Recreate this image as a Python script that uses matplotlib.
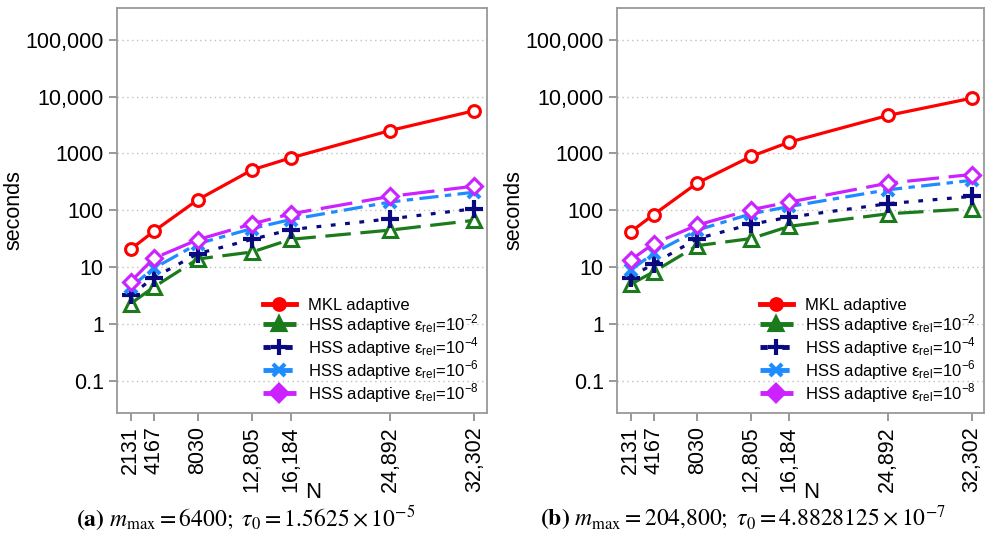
import numpy as np
import matplotlib
matplotlib.use("Agg")
import matplotlib.pyplot as plt
from matplotlib.lines import Line2D
from matplotlib.ticker import FixedLocator, FixedFormatter, NullLocator

plt.rcParams['font.family'] = ['Liberation Sans', 'DejaVu Sans']
plt.rcParams['mathtext.fontset'] = 'stix'

# problem sizes
N = [2131, 4167, 8030, 12805, 16184, 24892, 32302]
N_labels = ['2131', '4167', '8030', '12,805', '16,184', '24,892', '32,302']

# panel (a): m_max = 6400
mkl_a = [20.7, 43, 154, 517, 836, 2530, 5650]
hss2_a = [2.3, 4.5, 14, 18.6, 31, 45, 67]
hss4_a = [3.2, 6.6, 17.4, 31, 46, 71, 107]
hss6_a = [4.5, 9.6, 26, 48, 69, 140, 209]
hss8_a = [5.6, 14.4, 30.6, 58, 87, 176, 267]

# panel (b): m_max = 204,800
mkl_b = [41.7, 84, 302, 890, 1585, 4650, 9350]
hss2_b = [5.0, 8.3, 24, 32, 52.5, 87, 107]
hss4_b = [6.6, 11.6, 31.9, 57, 76, 131, 176]
hss6_b = [8.9, 17.6, 45, 87, 117, 230, 337]
hss8_b = [13.3, 26, 55, 103, 140, 300, 427]

y_ticks = [0.1, 1, 10, 100, 1000, 10000, 100000]
y_labels = ['0.1', '1', '10', '100', '1000', '10,000', '100,000']

names = ['MKL adaptive',
         'HSS adaptive ε$_\\mathregular{rel}$=10$^{\\mathregular{-2}}$',
         'HSS adaptive ε$_\\mathregular{rel}$=10$^{\\mathregular{-4}}$',
         'HSS adaptive ε$_\\mathregular{rel}$=10$^{\\mathregular{-6}}$',
         'HSS adaptive ε$_\\mathregular{rel}$=10$^{\\mathregular{-8}}$']

colors = ['#ff0000', '#1b7a1b', '#0a0a80', '#1e8cff', '#cc22ff']
dashes = [None, (8, 3), (1.5, 3), (6, 2, 2, 2), (10, 3)]
markers = ['o', '^', '+', 'x', 'D']
msizes = [8.5, 10, 13, 9, 8.5]

captions = [r'$\mathbf{(a)}\ m_{\max} = 6400;\ \tau_0 = 1.5625 \times 10^{-5}$',
            r'$\mathbf{(b)}\ m_{\max} = 204{,}800;\ \tau_0 = 4.8828125 \times 10^{-7}$']

fig = plt.figure(figsize=(9.93, 5.37), dpi=100)
ax_a = fig.add_axes([0.1178, 0.2309, 0.3726, 0.7542])
ax_b = fig.add_axes([0.6213, 0.2309, 0.3696, 0.7542])

panels = [(ax_a, [mkl_a, hss2_a, hss4_a, hss6_a, hss8_a], -0.249),
          (ax_b, [mkl_b, hss2_b, hss4_b, hss6_b, hss8_b], -0.253)]

for ax, series, ylab_x in panels:
    ax.set_yscale('log')
    ax.set_ylim(0.0275, 3.6e5)
    ax.set_xlim(930, 33400)
    for yt in y_ticks:
        ax.axhline(yt, color='#c0c0c0', lw=1, ls=(0, (1, 2.5)), zorder=0)
    handles = []
    for i, vals in enumerate(series):
        crossy = markers[i] in ('+', 'x')
        line, = ax.plot(N, vals, color=colors[i], lw=2.3, marker=markers[i],
                        ms=msizes[i], mew=3 if crossy else 2.2,
                        mfc=colors[i] if crossy else 'white', zorder=3 + i)
        if dashes[i] is not None:
            line.set_dashes(dashes[i])
        h = Line2D([], [], color=colors[i], lw=3.5, marker=markers[i],
                   ms=msizes[i] * 0.9, mew=3, mfc=colors[i])
        if dashes[i] is not None:
            h.set_dashes(dashes[i])
        handles.append(h)
    ax.legend(handles, names, loc='lower right', frameon=False, fontsize=12,
              handlelength=2.0, handletextpad=0.7, labelspacing=0.0,
              borderaxespad=0.1, bbox_to_anchor=(1.0, 0.0))

    ax.yaxis.set_major_locator(FixedLocator(y_ticks))
    ax.yaxis.set_major_formatter(FixedFormatter(y_labels))
    ax.yaxis.set_minor_locator(NullLocator())
    ax.set_xticks(N)
    ax.set_xticklabels(N_labels, rotation=90)
    ax.tick_params(axis='both', labelsize=15.5, color='#888888', length=6, width=1.2)
    for sp in ax.spines.values():
        sp.set_color('#999999')
        sp.set_linewidth(1.3)
    ax.set_ylabel('seconds', fontsize=15.5)
    ax.yaxis.set_label_coords(ylab_x, 0.5)
    ax.set_xlabel('N', fontsize=16)
    ax.xaxis.set_label_coords(0.53, -0.17)

fig.text(0.247, 0.035, captions[0], fontsize=17, ha='center', va='center')
fig.text(0.748, 0.035, captions[1], fontsize=17, ha='center', va='center')

fig.savefig('out.png', dpi=100)
